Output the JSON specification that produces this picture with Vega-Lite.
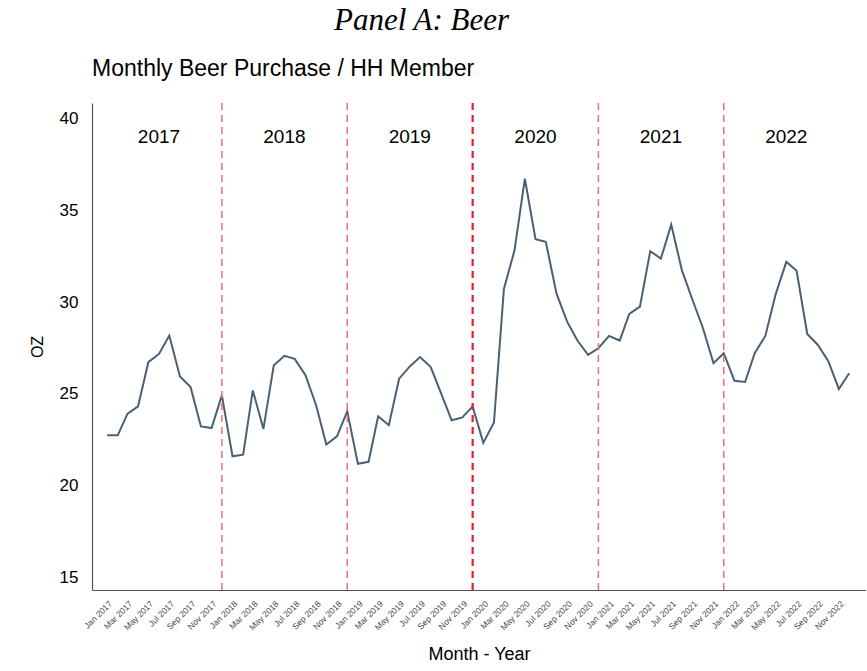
{
  "$schema": "https://vega.github.io/schema/vega-lite/v6.json",
  "background": "white",
  "padding": {"left": 29, "top": 4, "right": 0, "bottom": 4},
  "title": {
    "text": "Panel A: Beer",
    "anchor": "middle",
    "font": "Liberation Serif",
    "fontStyle": "italic",
    "fontWeight": "normal",
    "fontSize": 31,
    "color": "black",
    "offset": 21,
    "dx": -26
  },
  "config": {
    "view": {"stroke": null},
    "font": "Liberation Sans"
  },
  "vconcat": [
    {
      "width": 774,
      "height": 487,
      "title": {
        "text": "Monthly Beer Purchase / HH Member",
        "anchor": "start",
        "frame": "group",
        "font": "Liberation Sans",
        "fontWeight": "normal",
        "fontSize": 23,
        "color": "black",
        "offset": 21
      },
      "encoding": {
        "x": {
          "field": "date",
          "type": "temporal",
          "scale": {
            "type": "utc",
            "domain": [
              {"year": 2016, "month": 11, "date": 18, "utc": true},
              {"year": 2023, "month": 1, "date": 19, "utc": true}
            ]
          },
          "axis": {
            "title": "Month - Year",
            "titleFont": "Liberation Sans",
            "titleFontSize": 18,
            "titleFontWeight": "normal",
            "titleColor": "black",
            "titlePadding": 14,
            "labelExpr": "utcFormat(datum.value, '%b %Y')",
            "labelAngle": -45,
            "labelAlign": "right",
            "labelBaseline": "top",
            "labelFontSize": 8.5,
            "labelColor": "#444444",
            "labelPadding": 9,
            "labelOverlap": false,
            "ticks": false,
            "grid": false,
            "domainColor": "#555555",
            "domainWidth": 1.2,
            "values": [
              {"year": 2017, "month": 1, "date": 1, "utc": true},
              {"year": 2017, "month": 3, "date": 1, "utc": true},
              {"year": 2017, "month": 5, "date": 1, "utc": true},
              {"year": 2017, "month": 7, "date": 1, "utc": true},
              {"year": 2017, "month": 9, "date": 1, "utc": true},
              {"year": 2017, "month": 11, "date": 1, "utc": true},
              {"year": 2018, "month": 1, "date": 1, "utc": true},
              {"year": 2018, "month": 3, "date": 1, "utc": true},
              {"year": 2018, "month": 5, "date": 1, "utc": true},
              {"year": 2018, "month": 7, "date": 1, "utc": true},
              {"year": 2018, "month": 9, "date": 1, "utc": true},
              {"year": 2018, "month": 11, "date": 1, "utc": true},
              {"year": 2019, "month": 1, "date": 1, "utc": true},
              {"year": 2019, "month": 3, "date": 1, "utc": true},
              {"year": 2019, "month": 5, "date": 1, "utc": true},
              {"year": 2019, "month": 7, "date": 1, "utc": true},
              {"year": 2019, "month": 9, "date": 1, "utc": true},
              {"year": 2019, "month": 11, "date": 1, "utc": true},
              {"year": 2020, "month": 1, "date": 1, "utc": true},
              {"year": 2020, "month": 3, "date": 1, "utc": true},
              {"year": 2020, "month": 5, "date": 1, "utc": true},
              {"year": 2020, "month": 7, "date": 1, "utc": true},
              {"year": 2020, "month": 9, "date": 1, "utc": true},
              {"year": 2020, "month": 11, "date": 1, "utc": true},
              {"year": 2021, "month": 1, "date": 1, "utc": true},
              {"year": 2021, "month": 3, "date": 1, "utc": true},
              {"year": 2021, "month": 5, "date": 1, "utc": true},
              {"year": 2021, "month": 7, "date": 1, "utc": true},
              {"year": 2021, "month": 9, "date": 1, "utc": true},
              {"year": 2021, "month": 11, "date": 1, "utc": true},
              {"year": 2022, "month": 1, "date": 1, "utc": true},
              {"year": 2022, "month": 3, "date": 1, "utc": true},
              {"year": 2022, "month": 5, "date": 1, "utc": true},
              {"year": 2022, "month": 7, "date": 1, "utc": true},
              {"year": 2022, "month": 9, "date": 1, "utc": true},
              {"year": 2022, "month": 11, "date": 1, "utc": true}
            ]
          }
        }
      },
      "layer": [
        {
          "data": {"values": [
            {"date": "2017-01-01", "oz": 22.73},
            {"date": "2017-02-01", "oz": 22.73},
            {"date": "2017-03-01", "oz": 23.9},
            {"date": "2017-04-01", "oz": 24.31},
            {"date": "2017-05-01", "oz": 26.72},
            {"date": "2017-06-01", "oz": 27.17},
            {"date": "2017-07-01", "oz": 28.17},
            {"date": "2017-08-01", "oz": 25.94},
            {"date": "2017-09-01", "oz": 25.36},
            {"date": "2017-10-01", "oz": 23.22},
            {"date": "2017-11-01", "oz": 23.13},
            {"date": "2017-12-01", "oz": 24.91},
            {"date": "2018-01-01", "oz": 21.59},
            {"date": "2018-02-01", "oz": 21.68},
            {"date": "2018-03-01", "oz": 25.18},
            {"date": "2018-04-01", "oz": 23.08},
            {"date": "2018-05-01", "oz": 26.54},
            {"date": "2018-06-01", "oz": 27.07},
            {"date": "2018-07-01", "oz": 26.9},
            {"date": "2018-08-01", "oz": 26.03},
            {"date": "2018-09-01", "oz": 24.4},
            {"date": "2018-10-01", "oz": 22.23},
            {"date": "2018-11-01", "oz": 22.68},
            {"date": "2018-12-01", "oz": 24.04},
            {"date": "2019-01-01", "oz": 21.18},
            {"date": "2019-02-01", "oz": 21.29},
            {"date": "2019-03-01", "oz": 23.77},
            {"date": "2019-04-01", "oz": 23.28},
            {"date": "2019-05-01", "oz": 25.82},
            {"date": "2019-06-01", "oz": 26.49},
            {"date": "2019-07-01", "oz": 27.0},
            {"date": "2019-08-01", "oz": 26.45},
            {"date": "2019-09-01", "oz": 24.98},
            {"date": "2019-10-01", "oz": 23.55},
            {"date": "2019-11-01", "oz": 23.71},
            {"date": "2019-12-01", "oz": 24.31},
            {"date": "2020-01-01", "oz": 22.32},
            {"date": "2020-02-01", "oz": 23.44},
            {"date": "2020-03-01", "oz": 30.71},
            {"date": "2020-04-01", "oz": 32.83},
            {"date": "2020-05-01", "oz": 36.72},
            {"date": "2020-06-01", "oz": 33.42},
            {"date": "2020-07-01", "oz": 33.28},
            {"date": "2020-08-01", "oz": 30.47},
            {"date": "2020-09-01", "oz": 28.93},
            {"date": "2020-10-01", "oz": 27.9},
            {"date": "2020-11-01", "oz": 27.12},
            {"date": "2020-12-01", "oz": 27.48},
            {"date": "2021-01-01", "oz": 28.15},
            {"date": "2021-02-01", "oz": 27.9},
            {"date": "2021-03-01", "oz": 29.35},
            {"date": "2021-04-01", "oz": 29.75},
            {"date": "2021-05-01", "oz": 32.77},
            {"date": "2021-06-01", "oz": 32.37},
            {"date": "2021-07-01", "oz": 34.22},
            {"date": "2021-08-01", "oz": 31.74},
            {"date": "2021-09-01", "oz": 30.11},
            {"date": "2021-10-01", "oz": 28.6},
            {"date": "2021-11-01", "oz": 26.67},
            {"date": "2021-12-01", "oz": 27.21},
            {"date": "2022-01-01", "oz": 25.71},
            {"date": "2022-02-01", "oz": 25.64},
            {"date": "2022-03-01", "oz": 27.21},
            {"date": "2022-04-01", "oz": 28.15},
            {"date": "2022-05-01", "oz": 30.42},
            {"date": "2022-06-01", "oz": 32.19},
            {"date": "2022-07-01", "oz": 31.7},
            {"date": "2022-08-01", "oz": 28.26},
            {"date": "2022-09-01", "oz": 27.66},
            {"date": "2022-10-01", "oz": 26.79},
            {"date": "2022-11-01", "oz": 25.26},
            {"date": "2022-12-01", "oz": 26.12}
          ]},
          "mark": {"type": "line", "color": "#4b6173", "strokeWidth": 2},
          "encoding": {
            "y": {
              "field": "oz",
              "type": "quantitative",
              "scale": {"domain": [14.3, 40.85], "nice": false, "zero": false},
              "axis": {
                "title": "OZ",
                "titleFont": "Liberation Sans",
                "titleFontSize": 16,
                "titleFontWeight": "normal",
                "titleColor": "black",
                "titlePadding": 14,
                "values": [15, 20, 25, 30, 35, 40],
                "labelFontSize": 17,
                "labelColor": "black",
                "labelPadding": 14,
                "ticks": false,
                "grid": false,
                "domainColor": "#555555",
                "domainWidth": 1.2
              }
            }
          }
        },
        {
          "data": {"values": [
            {"date": "2017-12-01", "kind": "year"},
            {"date": "2018-12-01", "kind": "year"},
            {"date": "2020-12-01", "kind": "year"},
            {"date": "2021-12-01", "kind": "year"}
          ]},
          "mark": {"type": "rule", "color": "#f26d7d", "strokeWidth": 1.5, "strokeDash": [7, 5]},
          "encoding": {}
        },
        {
          "data": {"values": [
            {"date": "2019-12-01", "kind": "covid"}
          ]},
          "mark": {"type": "rule", "color": "#ec1c2e", "strokeWidth": 2.2, "strokeDash": [7, 5]},
          "encoding": {}
        },
        {
          "data": {"values": [
            {"date": "2017-06-01", "label": "2017", "oz": 39},
            {"date": "2018-06-01", "label": "2018", "oz": 39},
            {"date": "2019-06-01", "label": "2019", "oz": 39},
            {"date": "2020-06-01", "label": "2020", "oz": 39},
            {"date": "2021-06-01", "label": "2021", "oz": 39},
            {"date": "2022-06-01", "label": "2022", "oz": 39}
          ]},
          "mark": {"type": "text", "fontSize": 19, "font": "Liberation Sans", "color": "black", "baseline": "middle"},
          "encoding": {
            "y": {"field": "oz", "type": "quantitative"},
            "text": {"field": "label"}
          }
        }
      ]
    }
  ]
}
